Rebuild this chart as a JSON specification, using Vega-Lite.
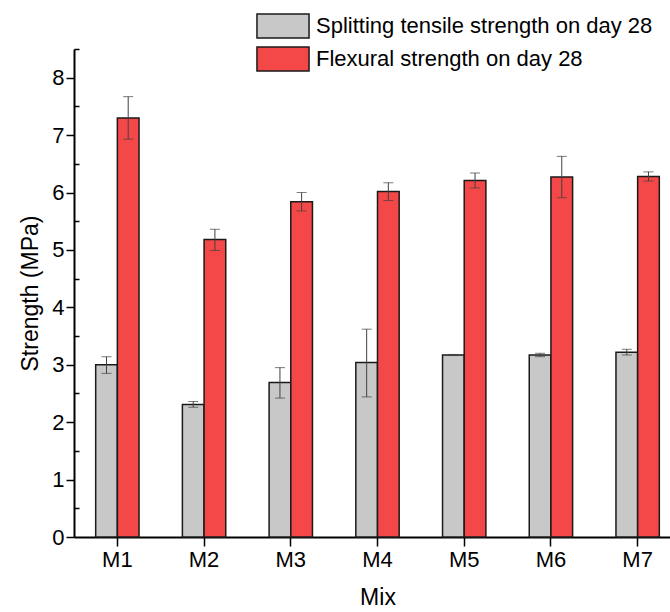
{
  "$schema": "https://vega.github.io/schema/vega-lite/v6.json",
  "width": 607,
  "height": 488,
  "autosize": {"type": "none"},
  "padding": {"left": 74, "top": 49, "right": 0, "bottom": 75},
  "background": "white",
  "config": {
    "view": {"stroke": null},
    "font": "Liberation Sans",
    "axis": {"grid": false, "labelFont": "Liberation Sans", "titleFont": "Liberation Sans"},
    "legend": {"labelFont": "Liberation Sans"}
  },
  "data": {
    "values": [
      {"mix": "M1", "series": "Splitting tensile strength on day 28", "value": 3.00, "lo": 2.85, "hi": 3.14},
      {"mix": "M1", "series": "Flexural strength on day 28", "value": 7.30, "lo": 6.93, "hi": 7.67},
      {"mix": "M2", "series": "Splitting tensile strength on day 28", "value": 2.31, "lo": 2.26, "hi": 2.36},
      {"mix": "M2", "series": "Flexural strength on day 28", "value": 5.18, "lo": 4.99, "hi": 5.36},
      {"mix": "M3", "series": "Splitting tensile strength on day 28", "value": 2.69, "lo": 2.42, "hi": 2.95},
      {"mix": "M3", "series": "Flexural strength on day 28", "value": 5.84, "lo": 5.68, "hi": 6.00},
      {"mix": "M4", "series": "Splitting tensile strength on day 28", "value": 3.04, "lo": 2.44, "hi": 3.62},
      {"mix": "M4", "series": "Flexural strength on day 28", "value": 6.02, "lo": 5.86, "hi": 6.17},
      {"mix": "M5", "series": "Splitting tensile strength on day 28", "value": 3.17, "lo": 3.16, "hi": 3.18},
      {"mix": "M5", "series": "Flexural strength on day 28", "value": 6.21, "lo": 6.08, "hi": 6.34},
      {"mix": "M6", "series": "Splitting tensile strength on day 28", "value": 3.17, "lo": 3.14, "hi": 3.20},
      {"mix": "M6", "series": "Flexural strength on day 28", "value": 6.27, "lo": 5.91, "hi": 6.63},
      {"mix": "M7", "series": "Splitting tensile strength on day 28", "value": 3.22, "lo": 3.17, "hi": 3.27},
      {"mix": "M7", "series": "Flexural strength on day 28", "value": 6.28, "lo": 6.20, "hi": 6.36}
    ]
  },
  "encoding": {
    "x": {
      "field": "mix",
      "type": "nominal",
      "title": "Mix",
      "scale": {"paddingInner": 0.5, "paddingOuter": 0.25},
      "axis": {
        "labelAngle": 0,
        "labelFontSize": 22,
        "labelColor": "#000",
        "labelPadding": 3,
        "tickSize": 9,
        "tickWidth": 1.5,
        "tickColor": "#000",
        "domainColor": "#000",
        "domainWidth": 2,
        "titleFontSize": 23,
        "titleFontWeight": "normal",
        "titleColor": "#000",
        "titlePadding": 16
      }
    },
    "xOffset": {
      "field": "series",
      "type": "nominal",
      "sort": ["Splitting tensile strength on day 28", "Flexural strength on day 28"],
      "scale": {"paddingInner": 0, "paddingOuter": 0}
    }
  },
  "layer": [
    {
      "mark": {"type": "bar", "stroke": "#1a1a1a", "strokeWidth": 1.5},
      "encoding": {
        "y": {
          "field": "value",
          "type": "quantitative",
          "title": "Strength (MPa)",
          "scale": {"domain": [0, 8.5], "nice": false, "zero": true},
          "axis": {
            "orient": "left",
            "values": [0, 1, 2, 3, 4, 5, 6, 7, 8],
            "labelFontSize": 22,
            "labelColor": "#000",
            "labelPadding": 2,
            "tickSize": 8,
            "tickWidth": 1.5,
            "tickColor": "#000",
            "domainColor": "#000",
            "domainWidth": 2,
            "titleFontSize": 23,
            "titleFontWeight": "normal",
            "titleColor": "#000",
            "titlePadding": 9
          }
        },
        "fill": {
          "field": "series",
          "type": "nominal",
          "scale": {
            "domain": ["Splitting tensile strength on day 28", "Flexural strength on day 28"],
            "range": ["#c8c8c8", "#f44848"]
          },
          "legend": {
            "orient": "none",
            "legendX": 196,
            "legendY": -36,
            "title": null,
            "labelFontSize": 22,
            "labelColor": "#000",
            "labelLimit": 0,
            "labelOffset": 20,
            "rowPadding": 3,
            "symbolType": "M-2.17,-1L2.17,-1L2.17,1L-2.17,1Z",
            "symbolSize": 576,
            "symbolStrokeColor": "#1a1a1a",
            "symbolStrokeWidth": 1.5,
            "symbolOpacity": 1
          }
        }
      }
    },
    {
      "mark": {"type": "rule", "color": "#404040", "strokeWidth": 1},
      "encoding": {
        "y": {"field": "lo", "type": "quantitative", "axis": null},
        "y2": {"field": "hi"}
      }
    },
    {
      "mark": {"type": "tick", "color": "#404040", "thickness": 1, "size": 10},
      "encoding": {
        "y": {
          "field": "lo",
          "type": "quantitative",
          "axis": {
            "orient": "left",
            "values": [0.5, 1.5, 2.5, 3.5, 4.5, 5.5, 6.5, 7.5, 8.5],
            "labels": false,
            "domain": false,
            "title": null,
            "tickSize": -5,
            "tickWidth": 1.5,
            "tickColor": "#000"
          }
        }
      }
    },
    {
      "mark": {"type": "tick", "color": "#404040", "thickness": 1, "size": 10},
      "encoding": {
        "y": {"field": "hi", "type": "quantitative", "axis": null}
      }
    }
  ],
  "resolve": {"axis": {"y": "independent"}}
}
